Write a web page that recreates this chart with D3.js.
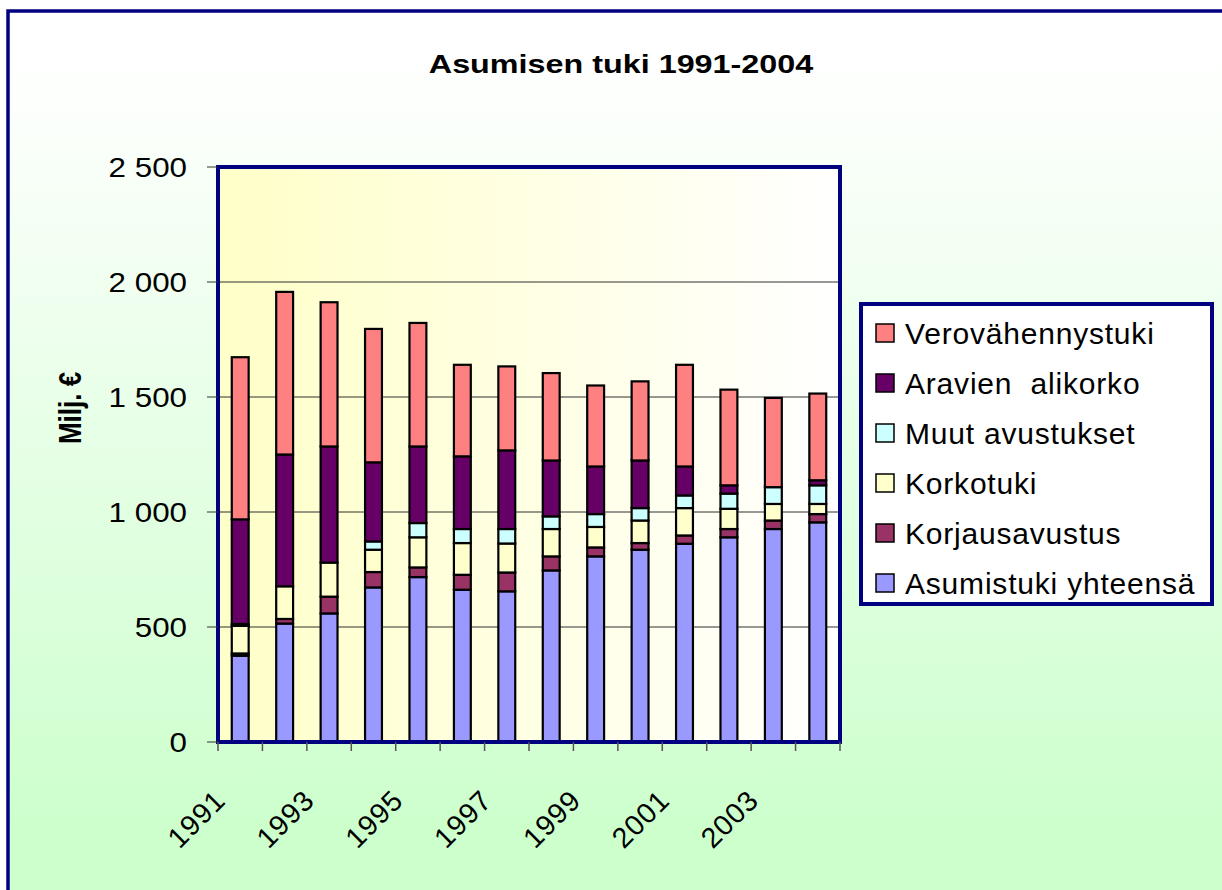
<!DOCTYPE html>
<html>
<head>
<meta charset="utf-8">
<script src="https://cdn.jsdelivr.net/npm/d3@7"></script>
<style>
  html, body { margin: 0; padding: 0; background: #fff; }
  svg { display: block; font-family: "Liberation Sans", Arial, sans-serif; }
</style>
</head>
<body>
<svg id="chart" width="1222" height="890"></svg>
<script>
// Asumisen tuki 1991-2004, milj. €
const years = [1991, 1992, 1993, 1994, 1995, 1996, 1997, 1998, 1999, 2000, 2001, 2002, 2003, 2004];
const yearLabels = ["1991", "", "1993", "", "1995", "", "1997", "", "1999", "", "2001", "", "2003", ""];
const asumistuki = [375, 515, 559, 672, 717, 662, 655, 746, 807, 836, 862, 890, 926, 955];
const korjausavustus = [10, 20, 73, 67, 42, 65, 82, 61, 39, 29, 36, 36, 37, 36];
const korkotuki = [120, 142, 148, 97, 131, 138, 126, 119, 89, 98, 119, 88, 72, 44];
const muutAvustukset = [8, 0, 0, 36, 62, 61, 63, 55, 56, 54, 55, 66, 73, 81];
const aravienAlikorko = [455, 573, 505, 344, 333, 316, 342, 243, 207, 207, 126, 36, 0, 22];
const verovahennystuki = [705, 707, 627, 580, 537, 398, 365, 380, 352, 344, 442, 416, 388, 377];
const yTicks = [0, 500, 1000, 1500, 2000, 2500];

// pinon järjestys alhaalta ylös
const series = [
  { key: "Asumistuki yhteensä", values: asumistuki, color: "#9999ff" },
  { key: "Korjausavustus", values: korjausavustus, color: "#993366" },
  { key: "Korkotuki", values: korkotuki, color: "#ffffcc" },
  { key: "Muut avustukset", values: muutAvustukset, color: "#ccffff" },
  { key: "Aravien  alikorko", values: aravienAlikorko, color: "#660066" },
  { key: "Verovähennystuki", values: verovahennystuki, color: "#ff8080" },
];

const rows = years.map((yr, i) => {
  const r = { year: yr };
  series.forEach((s) => (r[s.key] = s.values[i]));
  return r;
});

const svg = d3.select("#chart");
const fmt = d3.formatLocale({ decimal: ",", thousands: " ", grouping: [3], currency: ["", " €"] }).format(",d");

const L = 218, R = 840, T = 167, B = 742;
const x = d3.scaleBand().domain(years).range([L, R]).paddingInner(0.62).paddingOuter(0.31);
const xEdge = d3.scaleLinear().domain([0, years.length]).range([L, R]);
const y = d3.scaleLinear().domain([0, 2500]).range([B, T]);

/* taustat */
const defs = svg.append("defs");
const bg = defs.append("linearGradient").attr("id", "bg").attr("x1", 0).attr("y1", 0).attr("x2", 0).attr("y2", 1);
bg.append("stop").attr("offset", "0%").attr("stop-color", "#ffffff");
bg.append("stop").attr("offset", "9%").attr("stop-color", "#fdfffd");
bg.append("stop").attr("offset", "92%").attr("stop-color", "#ccffcc");
const pg = defs.append("linearGradient").attr("id", "pg").attr("x1", 0).attr("y1", 0).attr("x2", 1).attr("y2", 0);
pg.append("stop").attr("offset", "0%").attr("stop-color", "#ffffc8");
pg.append("stop").attr("offset", "100%").attr("stop-color", "#ffffff");

svg.append("rect").attr("x", 8).attr("y", 11).attr("width", 1240).attr("height", 900)
  .attr("fill", "url(#bg)").attr("stroke", "#000080").attr("stroke-width", 3.5);

svg.append("rect").attr("x", L).attr("y", T).attr("width", R - L).attr("height", B - T).attr("fill", "url(#pg)");

/* otsikko */
svg.append("g").attr("transform", "translate(621,73) scale(1.22,1)")
  .append("text").attr("text-anchor", "middle").attr("font-weight", "bold").attr("font-size", 26.5)
  .text("Asumisen tuki 1991-2004");

/* ruudukko */
svg.append("g").selectAll("line").data(yTicks.filter((t) => t > 0 && t < 2500)).join("line")
  .attr("x1", L).attr("x2", R).attr("y1", (d) => y(d)).attr("y2", (d) => y(d))
  .attr("stroke", "#303030").attr("stroke-width", 1);

/* pylväät */
const stack = d3.stack().keys(series.map((s) => s.key))(rows);
svg.append("g").selectAll("g").data(stack).join("g")
  .attr("fill", (d, i) => series[i].color)
  .selectAll("rect").data((d) => d.filter((p) => p[1] - p[0] > 0)).join("rect")
  .attr("x", (d) => x(d.data.year))
  .attr("width", x.bandwidth())
  .attr("y", (d) => y(d[1]))
  .attr("height", (d) => y(d[0]) - y(d[1]))
  .attr("stroke", "#000").attr("stroke-width", 2.2);

/* kuvaalueen kehys */
svg.append("rect").attr("x", L).attr("y", T).attr("width", R - L).attr("height", B - T)
  .attr("fill", "none").attr("stroke", "#000080").attr("stroke-width", 4);

/* y-akseli */
const ya = svg.append("g");
ya.selectAll("line").data(yTicks).join("line")
  .attr("x1", L - 11).attr("x2", L).attr("y1", (d) => y(d)).attr("y2", (d) => y(d))
  .attr("stroke", "#333").attr("stroke-width", 1);
ya.selectAll("g").data(yTicks).join("g")
  .attr("transform", (d) => `translate(187,${y(d)}) scale(1.14,1)`)
  .append("text").attr("text-anchor", "end").attr("dy", "0.36em").attr("font-size", 27.5)
  .text((d) => fmt(d));

svg.append("g").attr("transform", "translate(70,408) scale(1.22,1) rotate(-90)")
  .append("text").attr("text-anchor", "middle").attr("dy", "0.36em")
  .attr("font-weight", "bold").attr("font-size", 26).text("Milj. €");

/* x-akseli */
svg.append("g").selectAll("line").data(d3.range(years.length + 1)).join("line")
  .attr("x1", (d) => xEdge(d)).attr("x2", (d) => xEdge(d)).attr("y1", B).attr("y2", B + 9)
  .attr("stroke", "#555").attr("stroke-width", 1.5);

svg.append("g").selectAll("text").data(years.filter((yr, i) => yearLabels[i])).join("text")
  .attr("transform", (d) => `translate(${x(d) + x.bandwidth() / 2 - 13},802) rotate(-45)`)
  .attr("text-anchor", "end").attr("font-size", 28.5).attr("letter-spacing", "1px")
  .text((d) => yearLabels[years.indexOf(d)]);

/* selite */
const lg = svg.append("g");
lg.append("rect").attr("x", 861).attr("y", 304).attr("width", 351).attr("height", 300)
  .attr("fill", "#fff").attr("stroke", "#000080").attr("stroke-width", 4);
const items = series.slice().reverse();
const ly = d3.scalePoint().domain(items.map((s) => s.key)).range([333, 583]);
const li = lg.selectAll("g.item").data(items).join("g").attr("class", "item")
  .attr("transform", (d) => `translate(876,${ly(d.key)})`);
li.append("rect").attr("x", 0).attr("y", -9).attr("width", 18).attr("height", 18)
  .attr("fill", (d) => d.color).attr("stroke", "#000").attr("stroke-width", 1.5);
li.append("text").attr("x", 29).attr("dy", "0.36em").attr("font-size", 30)
  .attr("letter-spacing", "0.8px").style("white-space", "pre").text((d) => d.key);
</script>
</body>
</html>
